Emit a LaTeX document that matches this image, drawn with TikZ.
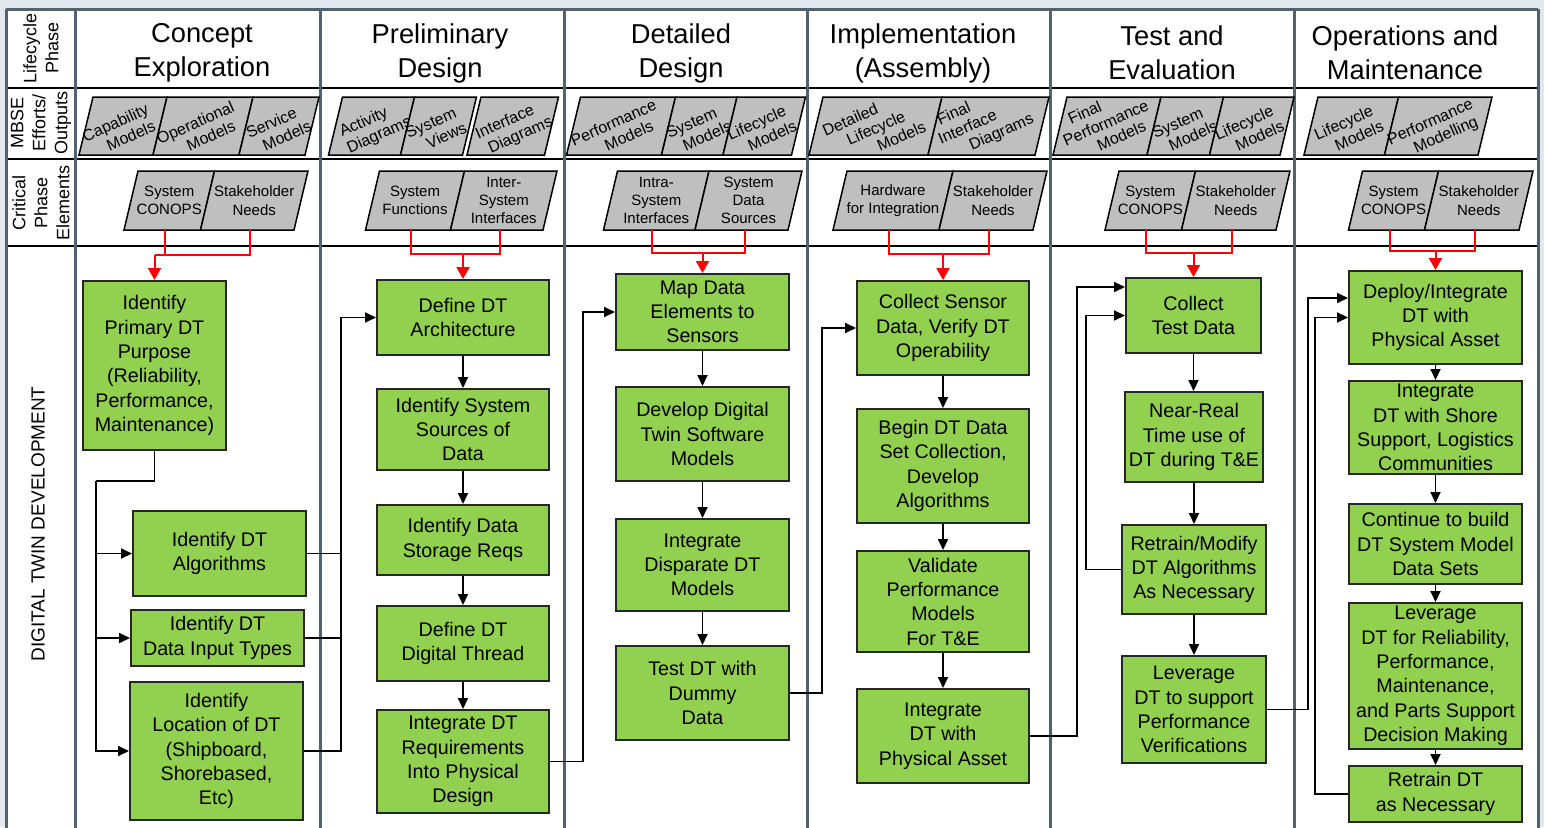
\documentclass[tikz,border=0pt]{standalone}
\usepackage{fontspec}
\setmainfont{Liberation Sans}
\usetikzlibrary{arrows.meta,calc}
\definecolor{framegray}{HTML}{52626F}
\definecolor{bggray}{HTML}{E3E8EE}
\definecolor{dtgreen}{HTML}{92D050}
\definecolor{cellgray}{HTML}{BFBFBF}
\begin{document}
\begin{tikzpicture}[x=1pt,y=-1pt,
  dtbox/.style={draw=black!85,line width=2pt,fill=dtgreen,align=center,inner xsep=2pt,inner ysep=1pt,font=\fontsize{19.7}{24.3}\selectfont},
  arr/.style={line width=1.8pt,-{Triangle[length=11pt,width=10pt]}},
  bus/.style={line width=1.8pt},
  redline/.style={red,line width=2pt},
  redarr/.style={red,line width=2pt,-{Triangle[length=12pt,width=13pt]}},
  cell/.style={draw=black,line width=1.5pt,fill=cellgray},
  mbse/.style={align=center,rotate=24,inner sep=0pt,font=\fontsize{16}{18}\selectfont},
  cpe/.style={align=center,inner sep=1pt,minimum height=59pt,font=\fontsize{15}{18.3}\selectfont},
  phase/.style={align=center,font=\fontsize{27.3}{34}\selectfont},
  rowlabel/.style={align=center,rotate=90,font=\fontsize{18}{22}\selectfont}]
\fill[bggray,use as bounding box] (0,0) rectangle (1544,827);
\clip (0,0) rectangle (1544,827);
\fill[white] (6,9) rectangle (1538,840);
\foreach \y in {88,159,246} \draw[line width=1.5pt] (6,\y) -- (1538,\y);
\foreach \x in {6,75,320,564,807,1050,1294,1538} \draw[framegray,line width=3pt] (\x,9) -- (\x,840);
\draw[framegray,line width=3pt] (6,9) -- (1538,9);

\node[rowlabel] (lbl1) at (41,48) {Lifecycle\\Phase};
\node[rowlabel] (lbl2) at (41,123) {MBSE\\Efforts/\\Outputs};
\node[rowlabel] (lbl3) at (41,203) {Critical\\Phase\\Elements};
\node[rotate=90,font=\fontsize{19}{22}\selectfont] (lbl4) at (38,524) {DIGITAL TWIN DEVELOPMENT};

\foreach \x/\t [count=\i] in {202/{Concept\\Exploration},440/{Preliminary\\Design},681/{Detailed\\Design},
  923/{Implementation\\(Assembly)},1172/{Test and\\Evaluation},1405/{Operations and\\Maintenance}}
  \node[phase] (ph\i) at (\x,53) {\t};

\foreach \a/\b/\dx/\dy/\t [count=\i] in {86/160/-4/5/{Capability\\\hspace*{18pt}Models},160/246/-4/5/{Operational\\\hspace*{18pt}Models},
  246/312/-4/5/{Service\\\hspace*{18pt}Models},
  335.5/407.5/-4/5/{Activity\\\hspace*{18pt}Diagrams},407.5/469.5/-4/5/{System\\\hspace*{18pt}Views},474/551.5/-4/5/{Interface\\\hspace*{18pt}Diagrams},
  573.5/668.5/-4/5/{Performance\\\hspace*{18pt}Models},668.5/730/-4/5/{System\\\hspace*{18pt}Models},730/798.5/-4/5/{Lifecycle\\\hspace*{18pt}Models},
  816/935/-18/10/{Detailed\\\hspace*{40pt}Lifecycle\\\hspace*{80pt}Models},935/1042/-27/5/{Final\\\hspace*{14pt}Interface\\\hspace*{72pt}Diagrams},
  1060/1154/-15/3/{Final\\\hspace*{30pt}Performance\\\hspace*{48pt}Models},1154/1216.5/-4/5/{System\\\hspace*{18pt}Models},
  1216.5/1287/-4/5/{Lifecycle\\\hspace*{18pt}Models},
  1311/1391.5/-4/5/{Lifecycle\\\hspace*{18pt}Models},1391.5/1485/-4/5/{Performance\\\hspace*{18pt}Modelling}}{
  \draw[cell] (\a-7,155) -- (\b-7,155) -- (\b+7,97) -- (\a+7,97) -- cycle;
  \node[mbse] (mb\i) at ({(\a+\b)/2+\dx},126+\dy) {\t};
}

\foreach \c/\a/\m/\b/\tl/\tr in {1/131/207.5/301/{System\\CONOPS}/{Stakeholder\\Needs},
  2/372.5/457.5/550/{System\\Functions}/{Inter-\\System\\Interfaces},
  3/610.5/702/795/{Intra-\\System\\Interfaces}/{System\\Data\\Sources},
  4/840/946/1040/{Hardware\\for Integration}/{Stakeholder\\Needs},
  5/1112/1188.5/1283/{System\\CONOPS}/{Stakeholder\\Needs},
  6/1355.5/1431.5/1526/{System\\CONOPS}/{Stakeholder\\Needs}}{
  \draw[cell] (\a-7,230) -- (\m-7,230) -- (\m+7,171) -- (\a+7,171) -- cycle;
  \draw[cell] (\m-7,230) -- (\b-7,230) -- (\b+7,171) -- (\m+7,171) -- cycle;
  \node[cpe] (cpL\c) at ({(\a+\m)/2},200.5) {\tl};
  \node[cpe] (cpR\c) at ({(\m+\b)/2},200.5) {\tr};
}

\node[dtbox,minimum width=143pt,minimum height=169pt] (A1) at (154.5,365.5) {Identify\\Primary DT\\Purpose\\(Reliability,\\Performance,\\Maintenance)};
\node[dtbox,minimum width=173pt,minimum height=85pt] (A2) at (219.5,553.5) {Identify DT\\Algorithms};
\node[dtbox,minimum width=173pt,minimum height=56pt] (A3) at (217.5,638) {Identify DT\\Data Input Types};
\node[dtbox,minimum width=173pt,minimum height=138pt] (A4) at (216.5,751) {Identify\\Location of DT\\(Shipboard,\\Shorebased,\\Etc)};

\node[dtbox,minimum width=172pt,minimum height=75pt] (B1) at (463,317.5) {Define DT\\Architecture};
\node[dtbox,minimum width=172pt,minimum height=81pt] (B2) at (463,429.5) {Identify System\\Sources of\\Data};
\node[dtbox,minimum width=172pt,minimum height=70pt] (B3) at (463,540) {Identify Data\\Storage Reqs};
\node[dtbox,minimum width=172pt,minimum height=75pt] (B4) at (463,643.5) {Define DT\\Digital Thread};
\node[dtbox,minimum width=172pt,minimum height=103pt] (B5) at (463,761.5) {Integrate DT\\Requirements\\Into Physical\\Design};

\node[dtbox,minimum width=173pt,minimum height=76pt] (C1) at (702.5,312) {Map Data\\Elements to\\Sensors};
\node[dtbox,minimum width=173pt,minimum height=94pt] (C2) at (702.5,434) {Develop Digital\\Twin Software\\Models};
\node[dtbox,minimum width=173pt,minimum height=92pt] (C3) at (702.5,565) {Integrate\\Disparate DT\\Models};
\node[dtbox,minimum width=173pt,minimum height=94pt] (C4) at (702.5,693) {Test DT with\\Dummy\\Data};

\node[dtbox,minimum width=172pt,minimum height=94pt] (D1) at (943,328) {Collect Sensor\\Data, Verify DT\\Operability};
\node[dtbox,minimum width=172pt,minimum height=114pt] (D2) at (943,466) {Begin DT Data\\Set Collection,\\Develop\\Algorithms};
\node[dtbox,minimum width=172pt,minimum height=101pt] (D3) at (943,601.5) {Validate\\Performance\\Models\\For T\&E};
\node[dtbox,minimum width=172pt,minimum height=94pt] (D4) at (943,736) {Integrate\\DT with\\Physical Asset};

\node[dtbox,minimum width=135pt,minimum height=75pt] (E1) at (1193.5,315.5) {Collect\\Test Data};
\node[dtbox,minimum width=138pt,minimum height=90pt] (E2) at (1194,437) {Near-Real\\Time use of\\DT during T\&E};
\node[dtbox,minimum width=144pt,minimum height=89pt] (E3) at (1194,569.5) {Retrain/Modify\\DT Algorithms\\As Necessary};
\node[dtbox,minimum width=144pt,minimum height=107pt] (E4) at (1194,709.5) {Leverage\\DT to support\\Performance\\Verifications};

\node[dtbox,minimum width=173pt,minimum height=93pt] (F1) at (1435.5,317.5) {Deploy/Integrate\\DT with\\Physical Asset};
\node[dtbox,minimum width=173pt,minimum height=93pt] (F2) at (1435.5,427.5) {Integrate\\DT with Shore\\Support, Logistics\\Communities};
\node[dtbox,minimum width=173pt,minimum height=80pt] (F3) at (1435.5,544) {Continue to build\\DT System Model\\Data Sets};
\node[dtbox,minimum width=173pt,minimum height=146pt] (F4) at (1435.5,676) {Leverage\\DT for Reliability,\\Performance,\\Maintenance,\\and Parts Support\\Decision Making};
\node[dtbox,minimum width=173pt,minimum height=56pt] (F5) at (1435.5,794) {Retrain DT\\as Necessary};

\foreach \c/\b/\y in {1/A1/255,2/B1/254,3/C1/253,4/D1/254,5/E1/253,6/F1/251}{
  \coordinate (jr\c) at (\b.north |- 0,\y);
  \draw[redline] ($(cpL\c.south)+(-4,0)$) |- (jr\c);
  \draw[redline] ($(cpR\c.south)+(-4,0)$) |- (jr\c);
  \draw[redarr] (jr\c) -- (\b.north);
}

\foreach \u/\v in {B1/B2,B2/B3,B3/B4,B4/B5,C1/C2,C2/C3,C3/C4,D1/D2,D2/D3,D3/D4,E1/E2,E2/E3,E3/E4,F1/F2,F2/F3,F3/F4,F4/F5}
  \draw[arr] (\u.south) -- (\u.south |- \v.north);

\coordinate (j1) at (96,481);
\draw[bus] (A1.south) |- (j1);
\foreach \v in {A2,A3,A4} \draw[arr] (j1) |- (\v.west);
\coordinate (j2) at (341,317.5);
\foreach \v in {A2,A3} \draw[bus] (\v.east) -| (j2);
\draw[arr] (A4.east) -| (j2) -- (B1.west);
\coordinate (j3) at (583,312);
\draw[arr] (B5.east) -| (j3) -- (C1.west);
\coordinate (j4) at (822,328);
\draw[arr] (C4.east) -| (j4) -- (D1.west);
\coordinate (j5) at (1077,287);
\draw[arr] (D4.east) -| (j5) -- (j5 -| E1.west);
\coordinate (j6) at (1086,315.5);
\draw[arr] (E3.west) -| (j6) -- (E1.west);
\coordinate (j7) at (1308,298);
\draw[arr] (E4.east) -| (j7) -- (j7 -| F1.west);
\coordinate (j8) at (1315,317.5);
\draw[arr] (F5.west) -| (j8) -- (F1.west);
\end{tikzpicture}
\end{document}
